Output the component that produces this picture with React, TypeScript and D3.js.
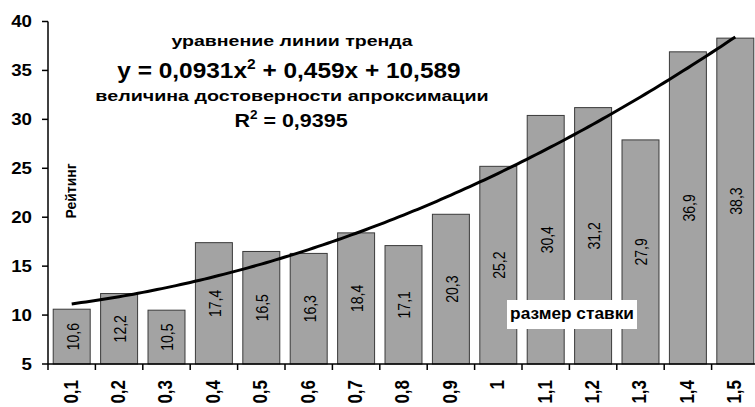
import React from "react";
import * as d3 from "d3";

// Rating by bet size, with a quadratic trend line
const categories = ["0,1", "0,2", "0,3", "0,4", "0,5", "0,6", "0,7", "0,8", "0,9", "1", "1,1", "1,2", "1,3", "1,4", "1,5"];
const ratings = [10.6, 12.2, 10.5, 17.4, 16.5, 16.3, 18.4, 17.1, 20.3, 25.2, 30.4, 31.2, 27.9, 36.9, 38.3];
const yTicks = [5, 10, 15, 20, 25, 30, 35, 40];
const trendCoef = { a: 0.0931, b: 0.459, c: 10.589 };

const W = 755;
const H = 407;
const FONT = "Arial, 'Liberation Sans', sans-serif";

export default function App() {
  const left = 48;
  const step = 47.4;
  const n = categories.length;
  const x = d3
    .scaleBand<string>()
    .domain(categories)
    .range([left, left + step * n])
    .padding(0);
  const bw = x.bandwidth();
  const barW = bw * 0.78;
  const y = d3.scaleLinear().domain([5, 40]).range([364, 21.5]);

  // trend evaluated at category index 1..n
  const idx = d3.range(1, n, 0.1).concat([n]);
  const trendPts = idx.map((i) => {
    const v = trendCoef.a * i * i + trendCoef.b * i + trendCoef.c;
    const px = x(categories[0])! + bw / 2 + (i - 1) * bw;
    return [px, y(v)] as [number, number];
  });
  const line = d3.line()(trendPts) || "";

  const fmt = (v: number) => v.toFixed(1).replace(".", ",");

  return (
    <svg width={W} height={H} style={{ position: "absolute", left: 0, top: 0, background: "#fff" }} fontFamily={FONT}>
      {/* bars */}
      {ratings.map((v, i) => {
        const cx = x(categories[i])! + bw / 2;
        return (
          <g key={i}>
            <rect x={cx - barW / 2} y={y(v)} width={barW} height={y(5) - y(v)} fill="#a3a3a3" stroke="#3a3a3a" strokeWidth={1} />
            <text
              transform={`translate(${cx + 1},${(y(v) + y(5)) / 2}) scale(1.17,1) rotate(-90)`}
              textAnchor="middle"
              dominantBaseline="central"
              fontSize={14}
              fill="#000"
            >
              {fmt(v)}
            </text>
          </g>
        );
      })}

      {/* trend line */}
      <path d={line} fill="none" stroke="#000" strokeWidth={3} />

      {/* y axis */}
      <line x1={left} x2={left} y1={y(40)} y2={y(5)} stroke="#000" strokeWidth={1.5} />
      {yTicks.map((t) => (
        <g key={t}>
          <line x1={left - 6} x2={left} y1={y(t)} y2={y(t)} stroke="#000" strokeWidth={1.5} />
          <text
            transform={`translate(32,${y(t)}) scale(1.17,1)`}
            textAnchor="end"
            dominantBaseline="central"
            fontSize={16}
            fontWeight="bold"
          >
            {t}
          </text>
        </g>
      ))}

      {/* x axis */}
      <line x1={left} x2={left + step * n} y1={y(5)} y2={y(5)} stroke="#000" strokeWidth={1.5} />
      {categories.map((c) => (
        <line key={"t" + c} x1={x(c)!} x2={x(c)!} y1={y(5)} y2={y(5) + 6} stroke="#000" strokeWidth={1.5} />
      ))}
      {categories.map((c) => (
        <text
          key={"l" + c}
          transform={`translate(${x(c)! + bw / 2 - 1},380) scale(1.15,1) rotate(-90)`}
          textAnchor="end"
          dominantBaseline="central"
          fontSize={17}
          fontWeight="bold"
        >
          {c}
        </text>
      ))}

      {/* axis titles */}
      <text
        transform="translate(71,191) scale(1.1,1) rotate(-90)"
        textAnchor="middle"
        dominantBaseline="central"
        fontSize={14}
        fontWeight="bold"
      >
        Рейтинг
      </text>
      <rect x={507} y={300} width={130} height={29} fill="#fff" />
      <text transform="translate(572,319) scale(1.08,1)" textAnchor="middle" fontSize={16} fontWeight="bold">
        размер ставки
      </text>

      {/* trend equation */}
      <g textAnchor="middle" fontWeight="bold">
        <text transform="translate(292,46) scale(1.26,1)" fontSize={15.5}>
          уравнение линии тренда
        </text>
        <text transform="translate(289,78) scale(1.11,1)" fontSize={22}>
          y = 0,0931x<tspan dy={-9} fontSize={14}>2</tspan>
          <tspan dy={9}> + 0,459x + 10,589</tspan>
        </text>
        <text transform="translate(292,101) scale(1.27,1)" fontSize={15.5}>
          величина достоверности апроксимации
        </text>
        <text transform="translate(291,127) scale(1.13,1)" fontSize={19}>
          R<tspan dy={-8} fontSize={12}>2</tspan>
          <tspan dy={8}> = 0,9395</tspan>
        </text>
      </g>
    </svg>
  );
}
